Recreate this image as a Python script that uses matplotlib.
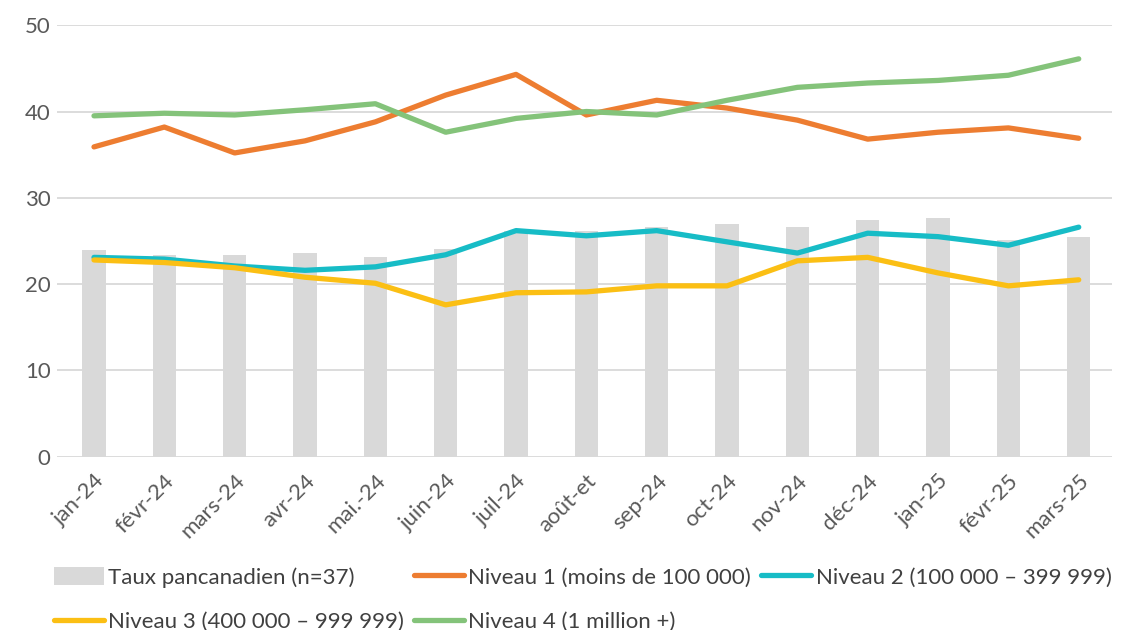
import matplotlib.pyplot as plt
import numpy as np

plt.rcParams['font.family'] = ['Lato', 'DejaVu Sans']

mois = ['jan-24', 'févr-24', 'mars-24', 'avr-24', 'mai.-24', 'juin-24', 'juil-24', 'août-et',
        'sep-24', 'oct-24', 'nov-24', 'déc-24', 'jan-25', 'févr-25', 'mars-25']

taux_pancanadien = [24.0, 23.4, 23.4, 23.6, 23.1, 24.1, 26.2, 26.2, 26.6, 27.0, 26.6, 27.4, 27.7, 25.1, 25.5]
niveau1 = [35.9, 38.2, 35.2, 36.6, 38.8, 41.9, 44.3, 39.6, 41.3, 40.4, 39.0, 36.8, 37.6, 38.1, 36.9]
niveau2 = [23.1, 22.9, 22.1, 21.6, 22.0, 23.4, 26.2, 25.6, 26.2, 24.9, 23.6, 25.9, 25.5, 24.5, 26.6]
niveau3 = [22.8, 22.5, 21.9, 20.8, 20.1, 17.6, 19.0, 19.1, 19.8, 19.8, 22.7, 23.1, 21.3, 19.8, 20.5]
niveau4 = [39.5, 39.8, 39.6, 40.2, 40.9, 37.6, 39.2, 40.0, 39.6, 41.3, 42.8, 43.3, 43.6, 44.2, 46.1]

x = np.arange(len(mois))

fig = plt.figure(figsize=(11.26, 6.3), dpi=100)
ax = fig.add_axes([0.051, 0.275, 0.937, 0.685])

barres = ax.bar(x, taux_pancanadien, width=0.33, color='#D9D9D9', label='Taux pancanadien (n=37)', zorder=2)
lw = 3.8
style = dict(lw=lw, solid_capstyle='round', solid_joinstyle='round', zorder=3)
l1, = ax.plot(x, niveau1, color='#ED7D31', label='Niveau 1 (moins de 100 000)', **style)
l2, = ax.plot(x, niveau2, color='#17BCC6', label='Niveau 2 (100 000 – 399 999)', **style)
l3, = ax.plot(x, niveau3, color='#FBBF14', label='Niveau 3 (400 000 – 999 999)', **style)
l4, = ax.plot(x, niveau4, color='#84C37A', label='Niveau 4 (1 million +)', **style)

ax.set_ylim(0, 50)
ax.set_xlim(-0.52, 14.48)
ax.set_yticks([0, 10, 20, 30, 40, 50])
ax.set_xticks(x)
ax.set_xticklabels(mois, rotation=45, ha='right', rotation_mode='anchor')
ax.tick_params(axis='both', length=0, labelsize=16, labelcolor='#595959')
ax.tick_params(axis='y', pad=5)
ax.tick_params(axis='x', pad=10)

ax.grid(axis='y', color='#D9D9D9', lw=1.3, zorder=0)
ax.set_axisbelow(True)
for s in ax.spines.values():
    s.set_visible(False)

# legend fills column by column, so order handles to read row by row
handles = [barres, l3, l1, l4, l2]
ax.legend(handles=handles, labels=[h.get_label() for h in handles],
          ncol=3, loc='upper left', bbox_to_anchor=(-0.012, -0.235), frameon=False,
          fontsize=16, labelcolor='#404040', handlelength=2.25, handleheight=0.9,
          handletextpad=0.2, columnspacing=0.45, labelspacing=1.05, borderaxespad=0)

fig.savefig('out.png', dpi=100)
